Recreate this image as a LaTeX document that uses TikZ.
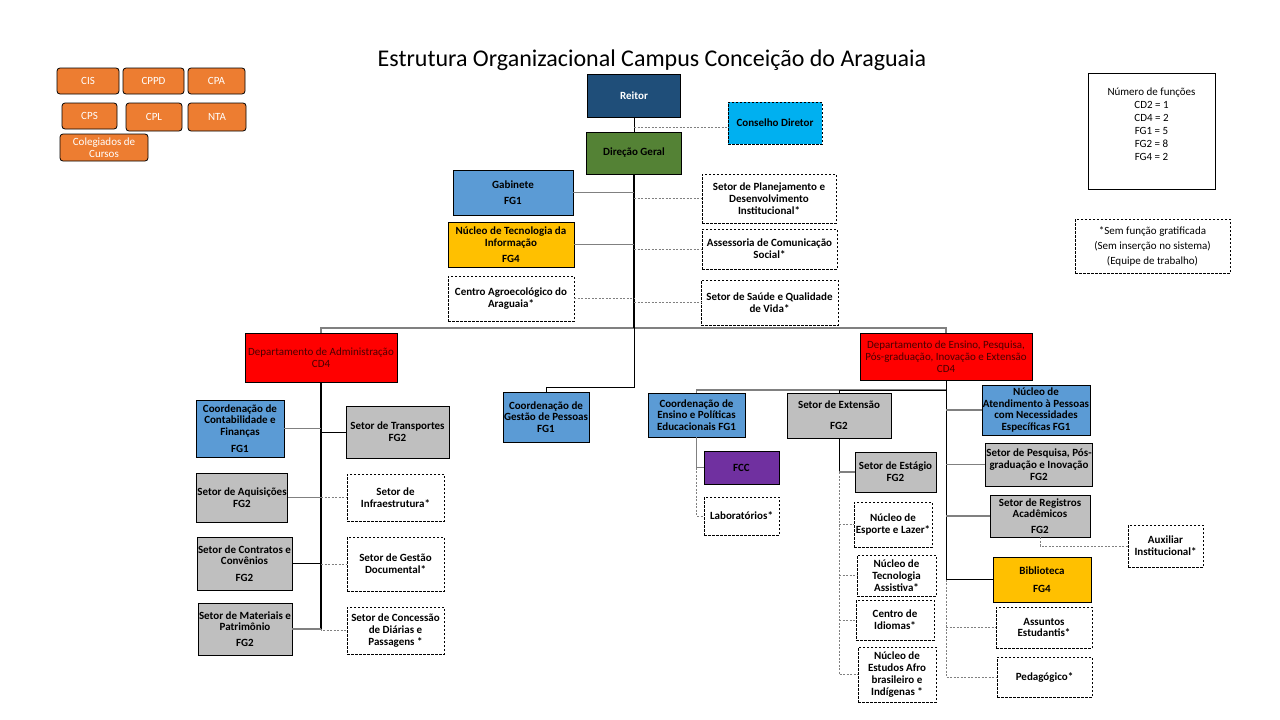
\documentclass[tikz,border=0pt]{standalone}
\usepackage{fontspec}
\setmainfont{Carlito}
\definecolor{reitorblue}{HTML}{1F4E79}
\definecolor{cdblue}{HTML}{00B0F0}
\definecolor{dggreen}{HTML}{548235}
\definecolor{fgblue}{HTML}{5B9BD5}
\definecolor{fggold}{HTML}{FFC000}
\definecolor{fggrey}{HTML}{BFBFBF}
\definecolor{fccpurple}{HTML}{7030A0}
\definecolor{comorange}{HTML}{ED7D31}
\definecolor{deptred}{HTML}{4A0000}
\definecolor{linegrey}{HTML}{808080}

\begin{document}
\begin{tikzpicture}[x=1pt, y=-1pt,
        sz/.style 2 args = {minimum width=#1pt, minimum height=#2pt},
        base/.style = {draw, line width=0.8pt, align=center, inner sep=1pt,
                       font=\bfseries\fontsize{11}{11.8}\selectfont},
   reitorbox/.style = {base, fill=reitorblue, text=white},
       cdbox/.style = {base, dash pattern=on 2.5pt off 1.5pt, fill=cdblue},
       dgbox/.style = {base, fill=dggreen},
     bluebox/.style = {base, fill=fgblue},
     goldbox/.style = {base, fill=fggold},
     greybox/.style = {base, fill=fggrey},
      fccbox/.style = {base, fill=fccpurple},
     deptbox/.style = {base, fill=red, text=deptred, font=\fontsize{11}{12}\selectfont},
     freebox/.style = {base, dash pattern=on 2.5pt off 1.5pt},
    comissao/.style = {draw, line width=0.8pt, rounded corners=3pt, fill=comorange, text=white,
                       align=center, inner sep=1pt, font=\fontsize{11}{12}\selectfont},
        link/.style = {draw, line width=0.8pt},
       glink/.style = {draw=linegrey, line width=1.4pt},
       dlink/.style = {draw=linegrey, line width=1pt, dash pattern=on 2pt off 1.5pt},
       spine/.style = {draw, line width=1.8pt}
  ]
  \useasboundingbox (0,0) rectangle (1280,720);
  \node[font=\fontsize{24}{26}\selectfont] (title) at (652,60) {Estrutura Organizacional Campus Conceição do Araguaia};
  % comissoes
  \node[comissao, sz={62}{26}] (cis)  at (88,81)     {CIS};
  \node[comissao, sz={61}{26}] (cppd) at (153.5,81)  {CPPD};
  \node[comissao, sz={57}{26}] (cpa)  at (216.5,81)  {CPA};
  \node[comissao, sz={55}{26}] (cps)  at (89.5,116)  {CPS};
  \node[comissao, sz={56}{28}] (cpl)  at (154,117)   {CPL};
  \node[comissao, sz={58}{28}] (nta)  at (217,117)   {NTA};
  \node[comissao, sz={88}{27}] (colc) at (104,147.5) {Colegiados de\\Cursos};
  % legendas
  \node[draw, line width=0.8pt, sz={127}{116}, align=center, font=\fontsize{11}{13}\selectfont]
       (nfunc) at (1151.5,131) {Número de funções\\CD2 = 1\\CD4 = 2\\FG1 = 5\\FG2 = 8\\FG4 = 2\\ \mbox{}};
  \node[freebox, sz={155}{54}, font=\fontsize{11}{15}\selectfont]
       (semfg) at (1152.5,246) {*Sem função gratificada\\(Sem inserção no sistema)\\(Equipe de trabalho)};
  % topo
  \node[reitorbox, sz={93}{43}] (reitor) at (634,95.5) {Reitor};
  \node[cdbox, sz={94}{42}]     (cd)     at (775,123)  {Conselho Diretor};
  \node[dgbox, sz={95}{42}]     (dg)     at (634,153)  {Direção Geral};
  \node[bluebox, sz={120}{45}]  (gab)    at (513,192.5) {Gabinete\\[4pt]FG1};
  \node[goldbox, sz={126}{45}]  (nti)    at (511,244.5) {Núcleo de Tecnologia da\\Informação\\[4pt]FG4};
  \node[freebox, sz={126}{45}]  (cag)    at (511,298.5) {Centro Agroecológico do\\Araguaia*};
  \node[freebox, sz={134}{49}]  (spd)    at (769,198.5) {Setor de Planejamento e\\Desenvolvimento\\Institucional*};
  \node[freebox, sz={135}{40}]  (asc)    at (769.5,249) {Assessoria de Comunicação\\Social*};
  \node[freebox, sz={137}{45}]  (ssq)    at (769.5,302.5) {Setor de Saúde e Qualidade\\de Vida*};
  % departamentos
  \node[deptbox, sz={152}{49}]  (dadm)   at (321,357.5) {Departamento de Administração\\CD4};
  \node[deptbox, sz={172}{47}]  (dens)   at (946,356.5) {Departamento de Ensino, Pesquisa,\\Pós-graduação, Inovação e Extensão\\CD4};
  % administracao
  \node[bluebox, sz={88}{57}]   (ccf)  at (240,428.5)  {Coordenação de\\Contabilidade e\\Finanças\\[5pt]FG1};
  \node[greybox, sz={103}{52}]  (str)  at (397.5,432)  {Setor de Transportes\\FG2};
  \node[greybox, sz={90}{49}]   (saq)  at (242,497.5)  {Setor de Aquisições\\FG2};
  \node[freebox, sz={97}{47}]   (sinf) at (395.5,497.5) {Setor de\\Infraestrutura*};
  \node[greybox, sz={93}{53}]   (sct)  at (244.5,563.5) {Setor de Contratos e\\Convênios\\[5pt]FG2};
  \node[freebox, sz={97}{54}]   (sgd)  at (395.5,564)  {Setor de Gestão\\Documental*};
  \node[greybox, sz={94}{52}]   (smp)  at (245,629)    {Setor de Materiais e\\Patrimônio\\[4pt]FG2};
  \node[freebox, sz={97}{47}]   (scd)  at (395.5,630.5) {Setor de Concessão\\de Diárias e\\Passagens *};
  % pessoas
  \node[bluebox, sz={86}{50}]   (cgp)  at (546,417)    {Coordenação de\\Gestão de Pessoas\\FG1};
  % ensino
  \node[bluebox, sz={97}{44}]   (cep)  at (696.5,415)  {Coordenação de\\Ensino e Políticas\\Educacionais FG1};
  \node[fccbox, sz={75}{33}]    (fcc)  at (741.5,467.5) {FCC};
  \node[freebox, sz={75}{38}]   (lab)  at (741.5,516)  {Laboratórios*};
  \node[greybox, sz={104}{45}]  (sext) at (839,415.5)  {Setor de Extensão\\[9pt]FG2};
  \node[greybox, sz={81}{40}]   (sest) at (895.5,472)  {Setor de Estágio\\FG2};
  \node[freebox, sz={78}{45}]   (esp)  at (893,524.5)  {Núcleo de\\Esporte e Lazer*};
  \node[freebox, sz={79}{41}]   (tec)  at (896.5,575.5) {Núcleo de\\Tecnologia\\Assistiva*};
  \node[freebox, sz={78}{40}]   (idi)  at (895,620)    {Centro de\\Idiomas*};
  \node[freebox, sz={78}{55}]   (afro) at (897,674.5)  {Núcleo de\\Estudos Afro\\brasileiro e\\Indígenas *};
  \node[bluebox, sz={106}{50}]  (napne) at (1036,410)  {Núcleo de\\Atendimento à Pessoas\\com Necessidades\\Específicas FG1};
  \node[greybox, sz={104}{43}]  (spq)  at (1039,464.5) {Setor de Pesquisa, Pós-\\graduação e Inovação\\FG2};
  \node[greybox, sz={100}{42}]  (sra)  at (1040,516)   {Setor de Registros\\Acadêmicos\\[4pt]FG2};
  \node[freebox, sz={75}{42}]   (aux)  at (1165.5,546) {Auxiliar\\Institucional*};
  \node[goldbox, sz={98}{45}]   (bib)  at (1042,579.5) {Biblioteca\\[6pt]FG4};
  \node[freebox, sz={96}{41}]   (ae)   at (1044,627.5) {Assuntos\\Estudantis*};
  \node[freebox, sz={95}{40}]   (ped)  at (1044.5,677) {Pedagógico*};
  % ligacoes
  \coordinate (cdj) at (634,127);
  \coordinate (bus) at (634,328);
  \coordinate (gpj) at (634,387);
  \coordinate (ej)  at (946,390);
  \draw[link] (reitor.south) -- (dg.north);
  \draw[dlink] (cdj) -- (cdj -| cd.west);
  \draw[glink] (dadm.north) |- (bus) -| (dens.north);
  \draw[spine] (dg.south) -- (bus);
  \draw[link] (bus) -- (gpj) -| (cgp.north);
  \draw[glink] (gab.east) -- (gab.east -| dg.south);
  \draw[glink] (nti.east) -- (nti.east -| dg.south);
  \draw[dlink] (cag.east) -- (cag.east -| dg.south);
  \draw[dlink] (spd.west -| dg.south) -- (spd.west);
  \draw[dlink] (asc.west -| dg.south) -- (asc.west);
  \draw[dlink] (ssq.west -| dg.south) -- (ssq.west);
  %
  \draw[spine] (dadm.south) -- (dadm.south |- smp.east);
  \draw[glink] (ccf.east) -- (ccf.east -| dadm.south);
  \draw[link]  (str.west -| dadm.south) -- (str.west);
  \draw[glink] (saq.east) -- (saq.east -| dadm.south);
  \draw[dlink] (sinf.west -| dadm.south) -- (sinf.west);
  \draw[link]  (sct.east) -- (sct.east -| dadm.south);
  \draw[dlink] (sgd.west -| dadm.south) -- (sgd.west);
  \draw[glink] (smp.east) -- (smp.east -| dadm.south);
  \draw[dlink] (dadm.south |- smp.east) |- (scd.west);
  %
  \draw[glink] (ej) -| (cep.north);
  \draw[link] (ej) -| (sext.north);
  \draw[glink] (cep.south) |- (fcc.west);
  \draw[dlink] (cep.south |- fcc.west) |- (lab.west);
  \draw[link] (sext.south) -- (sext.south |- sest.west);
  \draw[glink] (sext.south |- sest.west) -- (sest.west);
  \draw[dlink] (sext.south |- sest.west) |- (afro.west);
  \draw[dlink] (esp.west -| sext.south) -- (esp.west);
  \draw[dlink] (tec.west -| sext.south) -- (tec.west);
  \draw[dlink] (idi.west -| sext.south) -- (idi.west);
  %
  \draw[link] (dens.south) |- (bib.west);
  \draw[dlink] (dens.south |- bib.west) |- (ped.west);
  \draw[dlink] (ae.west -| dens.south) -- (ae.west);
  \draw[glink] (napne.west -| dens.south) -- (napne.west);
  \draw[glink] (spq.west -| dens.south) -- (spq.west);
  \draw[glink] (sra.west -| dens.south) -- (sra.west);
  \draw[dlink] (sra.south) |- (aux.west);
\end{tikzpicture}
\end{document}
